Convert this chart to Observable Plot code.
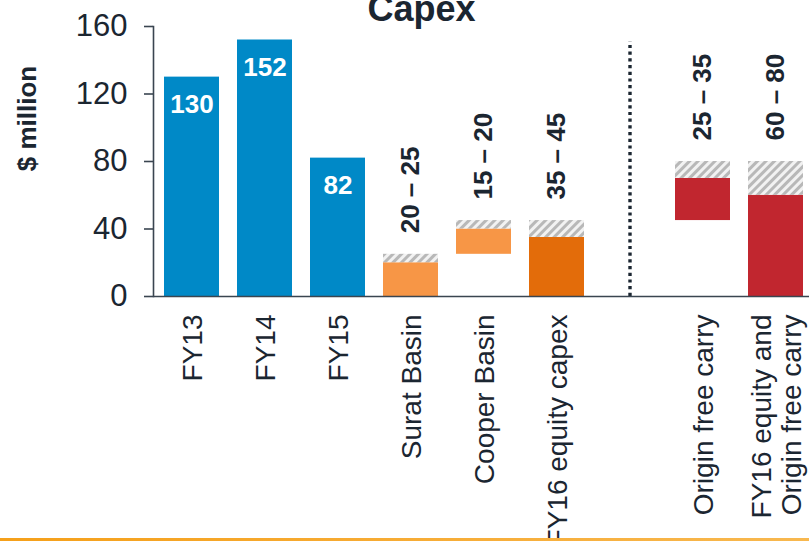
<!DOCTYPE html>
<html>
<head>
<meta charset="utf-8">
<script src="https://cdn.jsdelivr.net/npm/d3@7"></script>
<script src="https://cdn.jsdelivr.net/npm/@observablehq/plot@0.6"></script>
<style>
  html, body { margin: 0; padding: 0; background: #fff; }
  #wrap { position: relative; width: 809px; height: 541px; overflow: hidden; }
  #bottomline { position: absolute; left: 0; top: 538px; width: 809px; height: 3px;
    background: linear-gradient(90deg, #F5A01A, #F7AE3A 60%, #F8B84F); }
</style>
</head>
<body>
<div id="wrap"><div id="bottomline"></div></div>
<script>
// ---- data ----
const titleText = ["Capex"];
const yLabel = ["$ million"];
const categories = ["FY13", "FY14", "FY15", "Surat Basin", "Cooper Basin", "FY16 equity capex", "", "Origin free carry", "FY16 equity and\nOrigin free carry"];
const yTicks = [0, 40, 80, 120, 160];

const histCats = ["FY13", "FY14", "FY15"];
const histValues = [130, 152, 82];

const rangeCats = ["Surat Basin", "Cooper Basin", "FY16 equity capex", "Origin free carry", "FY16 equity and\nOrigin free carry"];
const rangeBase = [0, 25, 0, 45, 0];
const rangeLow = [20, 40, 35, 70, 60];
const rangeHigh = [25, 45, 45, 80, 80];
const rangeLabels = ["20 – 25", "15 – 20", "35 – 45", "25 – 35", "60 – 80"];
const rangeKind = ["basin", "basin", "equity", "carry", "carry"];

const dividerCat = [""];
const dividerTop = 151;

const kinds = ["history", "basin", "equity", "carry"];
const kindColors = ["#0089C7", "#F79646", "#E36C0A", "#C1262F"];

// ---- tables ----
const hist = histCats.map((c, i) => ({cat: c, value: histValues[i], kind: "history"}));
const ranges = rangeCats.map((c, i) => ({cat: c, base: rangeBase[i], low: rangeLow[i], high: rangeHigh[i], label: rangeLabels[i], kind: rangeKind[i]}));

const font = "'Liberation Sans', Arial, Helvetica, sans-serif";
const ink = "#1b2631";

const chart = Plot.plot({
  width: 809,
  height: 541,
  marginLeft: 153,
  marginRight: 0,
  marginTop: 26,
  marginBottom: 245,
  style: {fontFamily: font, color: ink, background: "transparent", overflow: "visible"},
  x: {type: "band", domain: categories, range: [153, 814], paddingInner: 0.25, paddingOuter: 0.12},
  y: {domain: [0, 160]},
  color: {domain: kinds, range: kindColors},
  marks: [
    Plot.barY(hist, {x: "cat", y: "value", fill: "kind"}),
    Plot.barY(ranges, {x: "cat", y1: "base", y2: "low", fill: "kind"}),
    Plot.barY(ranges, {x: "cat", y1: "low", y2: "high", fill: "url(#hatch)"}),
    Plot.text(hist, {x: "cat", y: "value", text: d => String(d.value), dy: 28, fill: "white", fontSize: 26, fontWeight: "bold"}),
    Plot.text(ranges, {x: "cat", y: "high", text: "label", rotate: -90, textAnchor: "start", dy: -21, fill: ink, fontSize: 26, fontWeight: "bold"}),
    Plot.ruleX(dividerCat, {x: d => d, y1: 0, y2: dividerTop, stroke: ink, strokeWidth: 3.4, strokeDasharray: "3.2,3.5"}),
    Plot.ruleY([0], {stroke: "#3a4550", strokeWidth: 1.6}),
    Plot.frame({anchor: "left", stroke: "#3a4550", strokeWidth: 1.6}),
    Plot.axisY({ticks: yTicks, tickSize: 9, tickPadding: 17, fontSize: 31, label: null, stroke: "#3a4550", strokeWidth: 1.6}),
    Plot.axisX({tickSize: 0, tickPadding: 18, tickRotate: -90, fontSize: 28, lineHeight: 1.08, label: null, tickFormat: d => d}),
    Plot.text(titleText, {frameAnchor: "top", lineAnchor: "middle", textAnchor: "middle", dx: -60, dy: -17, fontSize: 36, fontWeight: "bold", fill: ink}),
    Plot.text(yLabel, {frameAnchor: "left", rotate: -90, textAnchor: "middle", lineAnchor: "middle", dx: -126, dy: -43, fontSize: 26, fontWeight: "bold", fill: ink})
  ]
});

// hatch pattern for the uncertain part of each range
const ns = "http://www.w3.org/2000/svg";
const defs = document.createElementNS(ns, "defs");
defs.innerHTML = `<pattern id="hatch" patternUnits="userSpaceOnUse" width="6" height="6" patternTransform="rotate(45)">
  <rect width="6" height="6" fill="#f2f2f2"></rect>
  <rect width="3" height="6" fill="#b8b8b8"></rect>
</pattern>`;
chart.insertBefore(defs, chart.firstChild);

document.getElementById("wrap").insertBefore(chart, document.getElementById("bottomline"));
</script>
</body>
</html>
